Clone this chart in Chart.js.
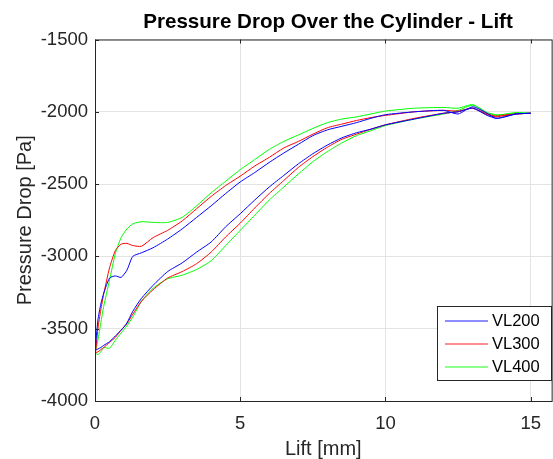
<!DOCTYPE html>
<html>
<head>
<meta charset="utf-8">
<script src="https://cdn.jsdelivr.net/npm/chart.js@4.4.1/dist/chart.umd.min.js"></script>
<style>
  html, body { margin: 0; padding: 0; background: #fff; overflow: hidden; }
  #wrap { width: 553px; height: 459px; }
</style>
</head>
<body>
<div id="wrap"><canvas id="grafica" width="553" height="459"></canvas></div>
<script>
// Lift positions [mm] where the curves were read
const lift = [0, 0.1, 0.2, 0.3, 0.5, 0.7, 0.9, 1.1, 1.3, 1.6, 2, 2.5, 3, 3.5, 4, 4.5, 5, 5.5, 6, 6.5,
              7, 7.5, 8, 8.5, 9, 9.5, 10, 11, 12, 12.5, 13, 13.5, 13.8, 14, 14.5, 15];

// Pressure drop [Pa], lower branch (0 -> 15 mm) and upper branch (15 -> 0 mm)
const vl200Lower = [-3650, -3640, -3630, -3615, -3590, -3550, -3510, -3460, -3380, -3290, -3200, -3105, -3045, -2970, -2900, -2795, -2705, -2610, -2520, -2440,
                    -2360, -2290, -2230, -2180, -2145, -2120, -2090, -2050, -2010, -2000, -1975, -2025, -2045, -2040, -2015, -2010];
const vl200Upper = [-3660, -3440, -3330, -3255, -3150, -3135, -3145, -3095, -3000, -2975, -2940, -2880, -2810, -2730, -2650, -2565, -2485, -2420, -2350, -2285,
                    -2225, -2165, -2125, -2100, -2075, -2045, -2020, -2000, -1990, -2015, -1965, -2010, -2045, -2040, -2015, -2010];
const vl300Lower = [-3670, -3660, -3645, -3630, -3595, -3560, -3510, -3465, -3400, -3310, -3230, -3150, -3105, -3050, -2970, -2865, -2770, -2665, -2565, -2475,
                    -2385, -2310, -2245, -2190, -2155, -2120, -2090, -2045, -2010, -2000, -1975, -2020, -2035, -2030, -2015, -2010];
const vl300Upper = [-3710, -3500, -3370, -3260, -3080, -2960, -2915, -2910, -2925, -2930, -2870, -2820, -2755, -2670, -2585, -2510, -2445, -2375, -2315, -2250,
                    -2205, -2155, -2110, -2085, -2060, -2040, -2025, -2000, -1990, -1995, -1975, -2015, -2030, -2025, -2015, -2010];
const vl400Lower = [-3665, -3680, -3660, -3630, -3635, -3580, -3530, -3480, -3420, -3310, -3220, -3155, -3130, -3090, -3030, -2925, -2820, -2715, -2610, -2520,
                    -2430, -2345, -2275, -2215, -2165, -2130, -2095, -2050, -2015, -1990, -1955, -2010, -2025, -2020, -2005, -2010];
const vl400Upper = [-3665, -3580, -3460, -3345, -3165, -2980, -2870, -2810, -2775, -2760, -2765, -2765, -2730, -2650, -2560, -2480, -2400, -2330, -2260, -2205,
                    -2160, -2115, -2075, -2050, -2035, -2015, -1995, -1975, -1970, -1975, -1950, -2005, -2020, -2020, -2010, -2010];

const seriesNames = ['VL200', 'VL300', 'VL400'];
const xTicks = [0, 5, 10, 15];
const yTicks = [-4000, -3500, -3000, -2500, -2000, -1500];

const fuente = "'Liberation Sans', Arial, Helvetica, sans-serif";
const tinta = '#262626';

// Une la rama de subida y la de bajada en un solo lazo
function lazo(inferior, superior) {
    const puntos = lift.map((x, i) => ({ x: x, y: inferior[i] }));
    for (let i = lift.length - 1; i >= 0; i--) {
        puntos.push({ x: lift[i], y: superior[i] });
    }
    return puntos;
}

// Titulo, marco, marcas y leyenda al estilo MATLAB
const marcoMatlab = {
    id: 'marcoMatlab',
    afterDraw(chart) {
        const ctx = chart.ctx;
        const a = chart.chartArea;
        const xs = chart.scales.x;
        const ys = chart.scales.y;
        ctx.save();

        ctx.strokeStyle = tinta;
        ctx.lineWidth = 1;
        ctx.strokeRect(a.left + 0.5, a.top + 0.5, a.right - a.left, a.bottom - a.top);

        // marcas hacia dentro
        ctx.beginPath();
        xTicks.forEach(v => {
            const px = Math.round(xs.getPixelForValue(v)) + 0.5;
            ctx.moveTo(px, a.bottom); ctx.lineTo(px, a.bottom - 4);
            ctx.moveTo(px, a.top); ctx.lineTo(px, a.top + 4);
        });
        yTicks.forEach(v => {
            const py = Math.round(ys.getPixelForValue(v)) + 0.5;
            ctx.moveTo(a.left, py); ctx.lineTo(a.left + 4, py);
        });
        ctx.stroke();

        // titulo
        ctx.fillStyle = '#000';
        ctx.font = 'bold 20.6px ' + fuente;
        ctx.textAlign = 'center';
        ctx.textBaseline = 'middle';
        ctx.fillText('Pressure Drop Over the Cylinder - Lift', 328, 22);

        // leyenda
        const lx = 437, ly = 306, lw = 114, lh = 74;
        ctx.fillStyle = '#fff';
        ctx.fillRect(lx, ly, lw, lh);
        ctx.strokeStyle = tinta;
        ctx.strokeRect(lx + 0.5, ly + 0.5, lw, lh);
        ctx.font = '16.5px ' + fuente;
        ctx.textAlign = 'left';
        chart.data.datasets.forEach((ds, i) => {
            const y = ly + 14.5 + i * 23;
            ctx.strokeStyle = ds.borderColor;
            ctx.globalAlpha = 0.6;
            ctx.lineWidth = 1.5;
            ctx.beginPath();
            ctx.moveTo(445, Math.round(y));
            ctx.lineTo(488, Math.round(y));
            ctx.stroke();
            ctx.globalAlpha = 1;
            ctx.fillStyle = '#000';
            ctx.fillText(ds.label, 492, y + 1);
        });
        ctx.restore();
    }
};

const ctx = document.getElementById('grafica').getContext('2d');
const grafica = new Chart(ctx, {
    type: 'scatter',
    data: {
        datasets: [
            { label: seriesNames[0], data: lazo(vl200Lower, vl200Upper), borderColor: '#0000ff' },
            { label: seriesNames[1], data: lazo(vl300Lower, vl300Upper), borderColor: '#ff0000' },
            { label: seriesNames[2], data: lazo(vl400Lower, vl400Upper), borderColor: '#00ff00' }
        ]
    },
    options: {
        responsive: false,
        animation: false,
        showLine: true,
        layout: { padding: { top: 39.5, right: 0, left: 0, bottom: 0 } },
        elements: {
            point: { radius: 0 },
            line: { borderWidth: 1, tension: 0.2, fill: false }
        },
        plugins: {
            legend: { display: false },
            tooltip: { enabled: false }
        },
        scales: {
            x: {
                type: 'linear',
                min: 0,
                max: 15.72,
                afterBuildTicks: s => { s.ticks = xTicks.map(v => ({ value: v })); },
                afterFit: s => { s.height = 58; },
                grid: { color: '#e3e3e3', drawTicks: false },
                border: { display: false },
                ticks: { color: tinta, padding: 12, font: { family: fuente, size: 18.5 }, callback: v => String(v) },
                title: {
                    display: true, text: 'Lift [mm]', color: tinta,
                    font: { family: fuente, size: 20, lineHeight: 1 },
                    padding: { top: 0, bottom: 0 }
                }
            },
            y: {
                type: 'linear',
                min: -4000,
                max: -1500,
                afterBuildTicks: s => { s.ticks = yTicks.map(v => ({ value: v })); },
                afterFit: s => { s.width = 95; },
                grid: { color: '#e3e3e3', drawTicks: false },
                border: { display: false },
                ticks: { color: tinta, padding: 7, font: { family: fuente, size: 18.5 }, callback: v => String(v) },
                title: {
                    display: true, text: 'Pressure Drop [Pa]', color: tinta,
                    font: { family: fuente, size: 20, lineHeight: 1.2 },
                    padding: { top: 13, bottom: 0 }
                }
            }
        }
    },
    plugins: [marcoMatlab]
});
</script>
</body>
</html>
